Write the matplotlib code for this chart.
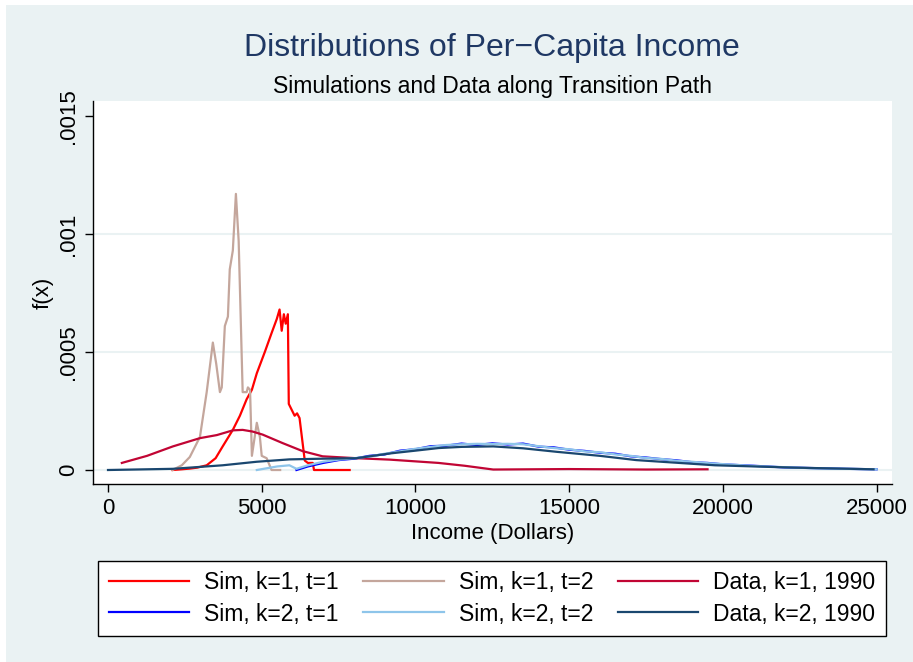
import matplotlib
matplotlib.use("Agg")
import matplotlib.pyplot as plt
from matplotlib.patches import Rectangle

plt.rcParams['font.family'] = ['Liberation Sans', 'DejaVu Sans']

# Sim, k=1, t=1
s11_x = [2100, 2400, 2660, 2900, 3210, 3500, 3730, 4060, 4290, 4510, 4680, 4840, 5100,
         5320, 5490, 5580, 5650, 5720, 5780, 5850, 5880, 6070, 6150, 6230, 6400, 6500,
         6660, 6700, 7860]
s11_y = [0, 0.000003, 0.000006, 0.00001, 0.00002, 0.00005, 0.0001, 0.00017, 0.00023, 0.0003,
         0.00034, 0.00041, 0.0005, 0.00058, 0.00064, 0.00068, 0.00059, 0.00066, 0.00062,
         0.00066, 0.00028, 0.00023, 0.00024, 0.00022, 0.00004, 0.00003, 0.00003, 0, 0]

# Sim, k=1, t=2
s12_x = [2100, 2400, 2660, 2990, 3210, 3410, 3520, 3640, 3700, 3800, 3900, 3960, 4060, 4160,
         4250, 4380, 4510, 4550, 4620, 4680, 4840, 4940, 5000, 5160, 5320, 5600]
s12_y = [0, 0.00002, 0.000055, 0.00014, 0.00033, 0.00054, 0.00045, 0.00033, 0.00035, 0.00061,
         0.00065, 0.00085, 0.00093, 0.00117, 0.00097, 0.00033, 0.00033, 0.00035, 0.00034,
         0.00006, 0.0002, 0.00014, 0.00006, 0.00005, 0, 0]

# Data, k=1, 1990
d1_x = [450, 1270, 2110, 2990, 3540, 4060, 4380, 4700, 5030, 5680, 6330, 6980, 8080, 9160,
        10750, 11600, 12530, 15000, 17500, 19500]
d1_y = [0.00003, 0.00006, 0.0001, 0.000135, 0.000148, 0.000168, 0.00017, 0.000163, 0.00015,
        0.000114, 0.00008, 0.000058, 0.00005, 0.000044, 0.00003, 0.000018, 0.000002,
        0.000004, 0.000002, 0.000003]

# Sim, k=2, t=1
s21_x = [6130, 6500, 7000, 7500, 8000, 8500, 9000, 9500, 10000, 10500, 11000, 11500, 12000,
         12500, 13000, 13500, 14000, 14500, 15000, 15500, 16000, 16500, 17000, 17500, 18000,
         18500, 19000, 19500, 20000, 21000, 22000, 23000, 24000, 25000]
s21_y = [0, 0.000015, 0.00003, 0.000042, 0.000048, 0.00006, 0.000066, 0.000082, 0.000088,
         0.000101, 0.000103, 0.000112, 0.000106, 0.000113, 0.000108, 0.000112, 0.000099,
         0.000096, 0.000086, 0.000081, 0.000073, 0.000069, 0.000058, 0.000053, 0.000046,
         0.000041, 0.000033, 0.00003, 0.000024, 0.000018, 0.000011, 0.000008, 0.000005, 0.000003]

# Sim, k=2, t=2
s22_x = [4840, 5500, 5900, 6130, 6500, 7000, 7500, 8000, 8500, 9000, 9500, 10000, 10500,
         11000, 11500, 12000, 12500, 13000, 13500, 14000, 14500, 15000, 15500, 16000, 16500,
         17000, 17500, 18000, 18500, 19000, 19500, 20000, 21000, 22000, 23000, 24000, 25000]
s22_y = [0, 0.000015, 0.00002, 0.000005, 0.00002, 0.000035, 0.000044, 0.00005, 0.000057,
         0.000069, 0.000079, 0.00009, 0.000098, 0.000106, 0.000109, 0.000111, 0.00011,
         0.000111, 0.000109, 0.000101, 0.000093, 0.000088, 0.000079, 0.000075, 0.000066,
         0.00006, 0.000051, 0.000047, 0.000039, 0.000035, 0.000029, 0.000025, 0.000017,
         0.000012, 0.000007, 0.000005, 0.000003]

# Data, k=2, 1990
d2_x = [0, 2110, 3730, 4840, 5900, 7000, 8080, 9160, 10000, 10750, 11500, 12530, 13500,
        14600, 16000, 17180, 19740, 22340, 24900]
d2_y = [0, 0.000005, 0.00002, 0.000035, 0.000045, 0.000048, 0.00005, 0.00007, 0.000082,
        0.000093, 0.000098, 0.0001, 0.000092, 0.000077, 0.00006, 0.000042, 0.00002,
        0.00001, 0.000003]

labels = ["Sim, k=1, t=1", "Sim, k=1, t=2", "Data, k=1, 1990",
          "Sim, k=2, t=1", "Sim, k=2, t=2", "Data, k=2, 1990"]
colors = ["#ff0000", "#c4a69c", "#c10534", "#0000ff", "#8ec5ea", "#1a476f"]

W, H = 913, 662
fig = plt.figure(figsize=(W / 100, H / 100), dpi=100)
fig.patch.set_facecolor("white")
fig.patches.append(Rectangle((6 / W, 0), 1, 1 - 5 / H, transform=fig.transFigure,
                             facecolor="#eaf2f3", edgecolor="none", zorder=-10))

ax = fig.add_axes([93 / W, 1 - 484 / H, (892 - 93) / W, (484 - 101) / H])
ax.set_facecolor("white")

series = [(s11_x, s11_y), (s12_x, s12_y), (d1_x, d1_y),
          (s21_x, s21_y), (s22_x, s22_y), (d2_x, d2_y)]
lines = []
for (xs, ys), lab, c in zip(series, labels, colors):
    ln, = ax.plot(xs, ys, color=c, lw=1.6, label=lab)
    lines.append(ln)

for g in [0, 0.0005, 0.001]:
    ax.axhline(g, color="#eaf2f3", lw=1.5, zorder=0)

ax.set_xlim(-488, 25500)
ax.set_ylim(-0.0000593, 0.0015636)
ax.set_xticks([0, 5000, 10000, 15000, 20000, 25000])
ax.set_xticklabels(["0", "5000", "10000", "15000", "20000", "25000"])
ax.set_yticks([0, 0.0005, 0.001, 0.0015])
ax.set_yticklabels(["0", ".0005", ".001", ".0015"], rotation=90, va="center")
ax.tick_params(labelsize=16, length=6, width=1, direction="out", pad=4)
for s in ["top", "right"]:
    ax.spines[s].set_visible(False)
ax.spines["left"].set_linewidth(1)
ax.spines["bottom"].set_linewidth(1)

ax.set_xlabel("Income (Dollars)", fontsize=16, labelpad=3)
ax.set_ylabel("f(x)", fontsize=16, labelpad=3)

fig.text(492 / W, 1 - 48 / H, "Distributions of Per\u2212Capita Income", fontsize=23,
         color="#1f3864", ha="center", va="center")
fig.text(492 / W, 1 - 86 / H, "Simulations and Data along Transition Path", fontsize=16.5,
         color="black", ha="center", va="center")

# legend filled column-wise, so reorder to read row-wise like the original
order = [0, 3, 1, 4, 2, 5]
leg = fig.legend([lines[i] for i in order], [labels[i] for i in order],
                 loc="center", ncol=3,
                 bbox_to_anchor=(492 / W, 1 - 598.5 / H), fontsize=16.5,
                 frameon=True, fancybox=False, edgecolor="black", framealpha=1,
                 handlelength=3.5, handletextpad=0.65, columnspacing=1.1,
                 labelspacing=0.35, borderpad=0.45)
leg.get_frame().set_linewidth(1)

fig.savefig("out.png", dpi=100)
